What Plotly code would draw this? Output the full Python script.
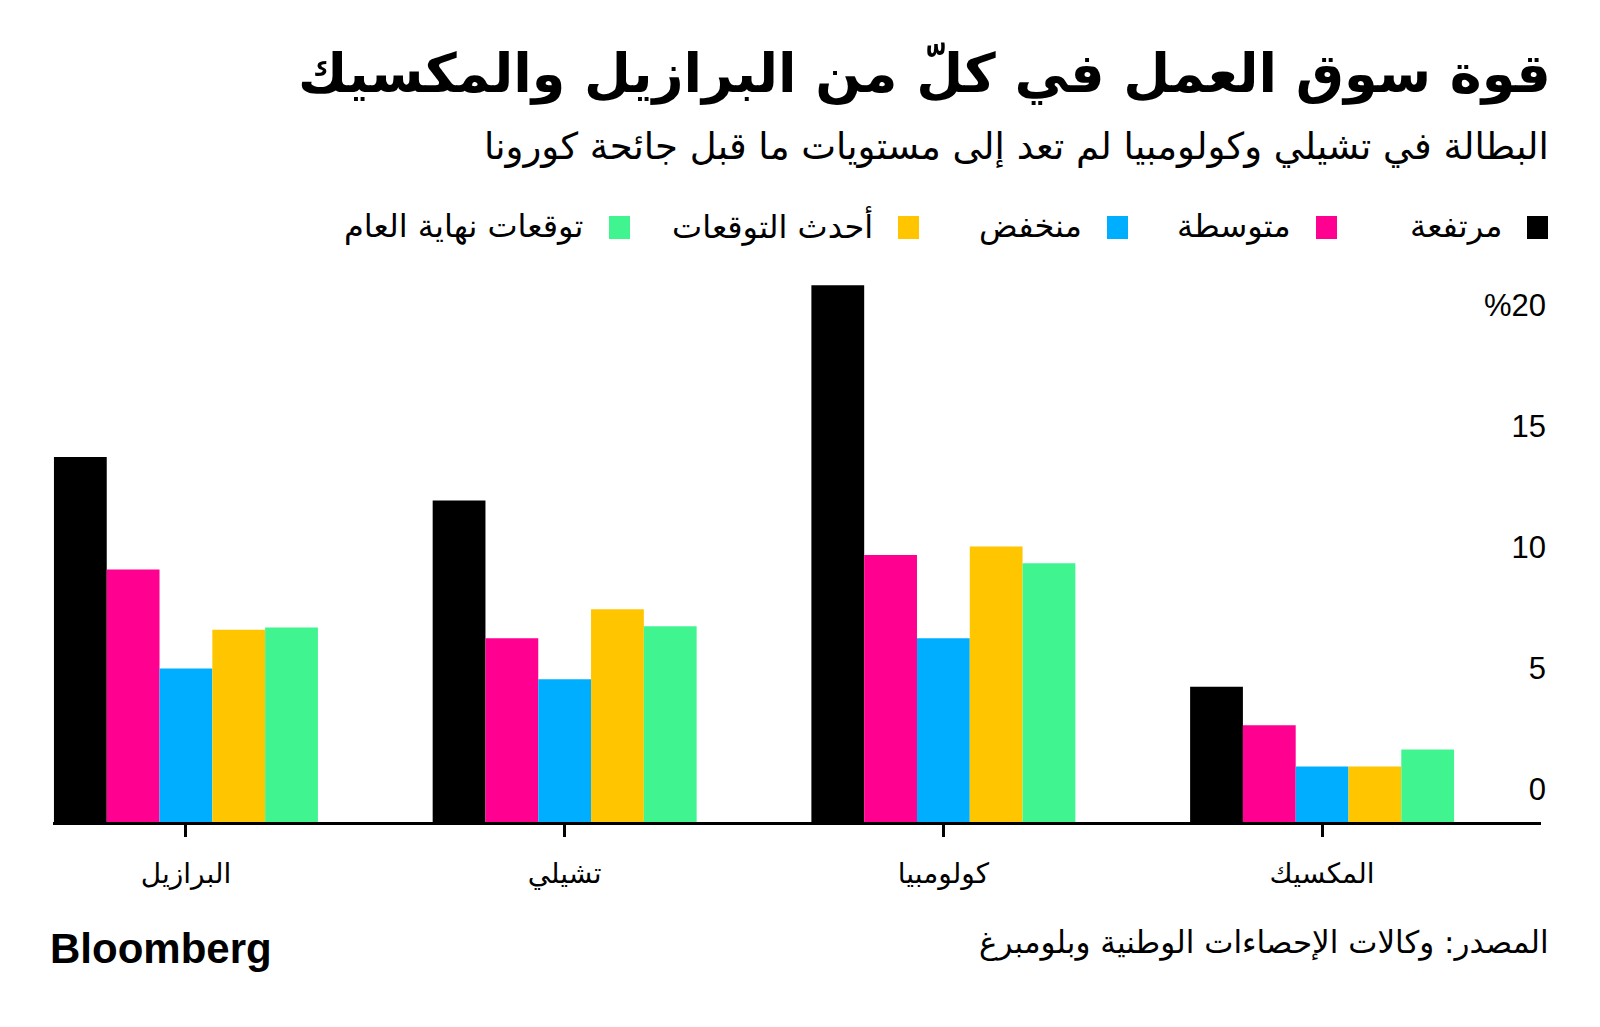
import plotly.graph_objects as go

# ---- data ----
countries = ["البرازيل", "تشيلي", "كولومبيا", "المكسيك"]
series_names = ["مرتفعة", "متوسطة", "منخفض", "أحدث التوقعات", "توقعات نهاية العام"]
high = [15.1, 13.3, 22.2, 5.6]
medium = [10.45, 7.6, 11.05, 4.0]
low = [6.35, 5.9, 7.6, 2.3]
latest_forecast = [7.95, 8.8, 11.4, 2.3]
yearend_forecast = [8.05, 8.1, 10.7, 3.0]
y_tickvals = [0, 5, 10, 15, 20]
y_ticktext = ["0", "5", "10", "15", "%20"]

colors = ["#000000", "#FF0090", "#00AEFF", "#FFC600", "#40F590"]
values = [high, medium, low, latest_forecast, yearend_forecast]

W, H = 1600, 1027
L, R, T, B = 53, 59, 266, 205
PW, PH = W - L - R, H - T - B


def px(x):
    return (x - L) / PW


def py(y):
    return (H - B - y) / PH


AR = "DejaVu Sans"
LAT = "Liberation Sans"

fig = go.Figure()
for name, vals, c in zip(series_names, values, colors):
    fig.add_trace(go.Bar(x=countries, y=vals, name=name, marker=dict(color=c, line=dict(width=0)),
                         showlegend=False))

fig.update_layout(
    width=W, height=H,
    margin=dict(l=L, r=R, t=T, b=B, autoexpand=False),
    paper_bgcolor="white", plot_bgcolor="white",
    barmode="group", bargap=0.303, bargroupgap=0,
    xaxis=dict(type="category", range=[-0.351, 3.578], showline=True, linecolor="black",
               linewidth=3, ticks="outside", ticklen=12, tickwidth=2.5, tickcolor="black",
               showgrid=False, zeroline=False, automargin=False,
               tickfont=dict(family=AR, size=28, color="black"), ticklabelstandoff=12),
    yaxis=dict(range=[0, 23], side="right", tickvals=y_tickvals, ticktext=y_ticktext,
               ticklabelposition="inside", showgrid=False, zeroline=False, showline=False,
               ticks="", ticklabelshift=-33, ticklabelstandoff=-8, automargin=False,
               tickfont=dict(family=LAT, size=31, color="black")),
)

ann = []
ann.append(dict(text="<b>قوة سوق العمل في كلّ من البرازيل والمكسيك</b>", x=px(1553), y=py(74),
                xanchor="right", yanchor="middle", font=dict(family=AR, size=54, color="black")))
ann.append(dict(text="البطالة في تشيلي وكولومبيا لم تعد إلى مستويات ما قبل جائحة كورونا", x=px(1551),
                y=py(146), xanchor="right", yanchor="middle", font=dict(family=AR, size=37, color="black")))

sq_left = [1527, 1316, 1107, 898, 609]
for name, c, sl in zip(series_names, colors, sq_left):
    fig.add_shape(type="rect", xref="paper", yref="paper", x0=px(sl), x1=px(sl + 21),
                  y0=py(239), y1=py(216), fillcolor=c, line=dict(width=0))
    ann.append(dict(text=name, x=px(sl - 23), y=py(226), xanchor="right", yanchor="middle",
                    font=dict(family=AR, size=32, color="black")))

ann.append(dict(text="المصدر: وكالات الإحصاءات الوطنية وبلومبرغ", x=px(1551), y=py(942),
                xanchor="right", yanchor="middle", font=dict(family=AR, size=31, color="black")))
ann.append(dict(text="<b>Bloomberg</b>", x=px(48), y=py(948), xanchor="left", yanchor="middle",
                font=dict(family=LAT, size=42, color="black")))

for a in ann:
    a.update(xref="paper", yref="paper", showarrow=False)
fig.update_layout(annotations=ann)

fig.write_html("out.html", config={"displayModeBar": False},
               post_script="document.body.style.margin='0';")
